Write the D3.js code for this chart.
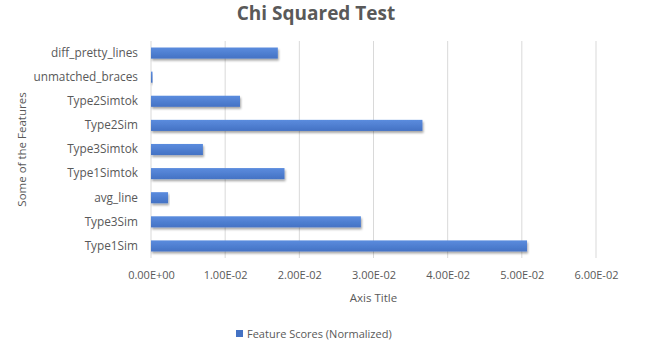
<!DOCTYPE html>
<html>
<head>
<meta charset="utf-8">
<script src="https://cdn.jsdelivr.net/npm/d3@7"></script>
<style>
  body { margin: 0; background: #fff; }
  text { font-family: "Open Sans", Lato, sans-serif; fill: #595959; }
</style>
</head>
<body>
<div id="chart"></div>
<script>
// feature names, top to bottom as shown
const features = ["diff_pretty_lines", "unmatched_braces", "Type2Simtok", "Type2Sim",
    "Type3Simtok", "Type1Simtok", "avg_line", "Type3Sim", "Type1Sim"];
const scores = [0.0171, 0.0002, 0.0120, 0.0366, 0.0070, 0.0180, 0.0023, 0.0283, 0.0507];
const xTicks = [0, 0.01, 0.02, 0.03, 0.04, 0.05, 0.06];
const seriesName = "Feature Scores (Normalized)";

const width = 670, height = 347;
const margin = {top: 41, right: 74, bottom: 89, left: 151};

const svg = d3.select("#chart").append("svg")
    .attr("width", width)
    .attr("height", height);

const defs = svg.append("defs");
const grad = defs.append("linearGradient")
    .attr("id", "barGrad")
    .attr("x1", 0).attr("y1", 0).attr("x2", 0).attr("y2", 1);
grad.append("stop").attr("offset", "0%").attr("stop-color", "#5b8cde");
grad.append("stop").attr("offset", "100%").attr("stop-color", "#4472c4");

const shadow = defs.append("filter")
    .attr("id", "shadow")
    .attr("x", "-5%").attr("y", "-40%")
    .attr("width", "115%").attr("height", "200%");
shadow.append("feDropShadow")
    .attr("dx", 1).attr("dy", 2)
    .attr("stdDeviation", 1.2)
    .attr("flood-color", "#000")
    .attr("flood-opacity", 0.35);

let x = d3.scaleLinear()
    .domain([0, 0.06])
    .range([margin.left, width - margin.right]);

let y = d3.scaleBand()
    .domain(features)
    .range([margin.top, height - margin.bottom])
    .paddingInner(0.54)
    .paddingOuter(0.27);

function sci(d) {
    if (d === 0) return "0.00E+00";
    let parts = d.toExponential(2).split("e");
    let e = parseInt(parts[1]);
    let sign = e < 0 ? "-" : "+";
    return parts[0] + "E" + sign + String(Math.abs(e)).padStart(2, "0");
}

// gridlines
svg.append("g")
    .selectAll("line")
    .data(xTicks)
    .enter().append("line")
    .attr("x1", d => x(d))
    .attr("x2", d => x(d))
    .attr("y1", margin.top)
    .attr("y2", height - margin.bottom)
    .attr("stroke", "#d9d9d9")
    .attr("stroke-width", 1);

// bars
svg.append("g")
    .selectAll("rect")
    .data(features)
    .enter().append("rect")
    .attr("x", x(0))
    .attr("y", d => y(d))
    .attr("width", (d, i) => Math.max(1.5, x(scores[i]) - x(0)))
    .attr("height", y.bandwidth())
    .attr("fill", "url(#barGrad)")
    .attr("filter", "url(#shadow)");

// x axis
let xAxis = svg.append("g")
    .attr("transform", "translate(0," + (height - margin.bottom) + ")")
    .call(d3.axisBottom(x).tickValues(xTicks).tickFormat(sci).tickSize(0).tickPadding(13));
xAxis.select(".domain").remove();
xAxis.selectAll("text")
    .attr("font-size", "11px")
    .attr("fill", "#595959");

// y axis
let yAxis = svg.append("g")
    .attr("transform", "translate(" + margin.left + ",0)")
    .call(d3.axisLeft(y).tickSize(0).tickPadding(13));
yAxis.select(".domain").remove();
yAxis.selectAll("text")
    .attr("font-size", "11.8px")
    .attr("fill", "#595959");

// title
svg.append("text")
    .attr("x", 316)
    .attr("y", 20)
    .attr("text-anchor", "middle")
    .attr("font-size", "19px")
    .attr("font-weight", "bold")
    .text("Chi Squared Test");

// axis titles
svg.append("text")
    .attr("x", (x.range()[0] + x.range()[1]) / 2)
    .attr("y", 302)
    .attr("text-anchor", "middle")
    .attr("font-size", "11.5px")
    .text("Axis Title");

svg.append("text")
    .attr("transform", "translate(26," + ((margin.top + height - margin.bottom) / 2) + ") rotate(-90)")
    .attr("text-anchor", "middle")
    .attr("font-size", "11.5px")
    .text("Some of the Features");

// legend
let legend = svg.append("g").attr("transform", "translate(236,330)");
legend.append("rect")
    .attr("width", 7).attr("height", 7)
    .attr("fill", "#4472c4");
legend.append("text")
    .attr("x", 11)
    .attr("y", 8)
    .attr("font-size", "11px")
    .text(seriesName);
</script>
</body>
</html>
